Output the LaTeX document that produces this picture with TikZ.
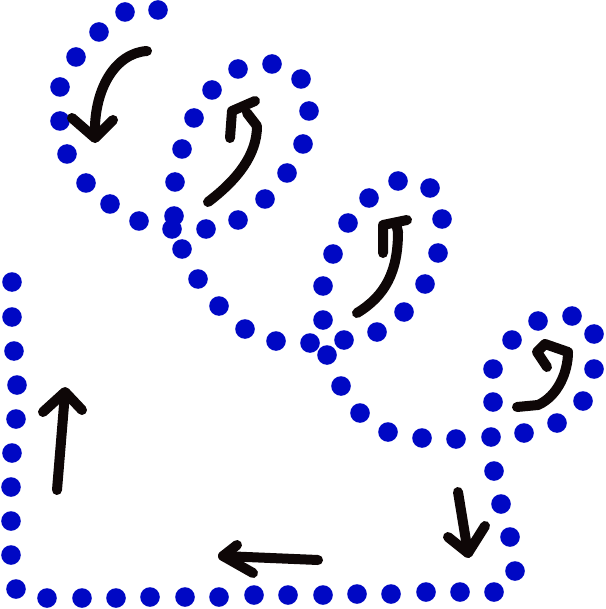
\documentclass[tikz,border=0pt]{standalone}
\definecolor{dotblue}{RGB}{0,8,196}
\definecolor{ink}{RGB}{14,7,7}
\tikzset{
  dotmark/.style={fill=dotblue},
  stroke/.style={draw=ink,line width=10pt,line cap=round,line join=round}
}
\begin{document}
\begin{tikzpicture}[x=1pt,y=-1pt]
\useasboundingbox (0,0) rectangle (605,609);
% blue dotted path
\foreach \p in {
  (158,10),(125,12),(99,32),(76,57),(60,87),(60,121),(67,154),(86,183),(110,204),(139,221),(174,216),(172,229),
  (175,182),(182,149),(194,118),(212,90),(238,69),(272,64),(301,79),(309,111),(303,144),(287,173),(265,199),(238,220),(206,229),
  (182,249),(198,279),(219,306),(245,329),(276,341),(310,343),(327,355),
  (323,320),(323,286),(333,254),(348,223),(369,198),(398,181),(430,188),(442,219),(438,253),(425,284),(404,312),(377,332),(344,340),
  (341,386),(360,413),(388,432),(422,438),(456,439),(491,437),
  (524,433),(557,423),(583,401),(594,369),(594,334),(572,316),(538,321),(512,340),(493,369),(493,402),
  (494,471),(501,504),(510,537),(515,571),(494,592),
  (460,592),(426,592),(391,594),(357,594),(323,595),(288,595),(254,595),(219,597),(185,597),(150,597),(116,598),(82,598),(47,598),(16,589),
  (11,555),(11,521),(11,487),(12,453),(16,419),(17,385),(14,351),(12,317),(12,282)}
  {\fill[dotmark] \p circle[radius=9.8];}
% arrows
\draw[stroke] (147,51) .. controls (115,53) and (93,90) .. (95,137);
\draw[stroke] (72,118) -- (95,138) -- (113,120);
\draw[stroke] (208,202) .. controls (237,180) and (257,155) .. (257,126) -- (247,113);
\draw[stroke] (230,138) -- (232,111) -- (255,101);
\draw[stroke] (357,313) .. controls (385,296) and (398,272) .. (398,232) -- (396,223);
\draw[stroke] (383,253) -- (383,225) -- (407,220);
\draw[stroke] (517,407) -- (538,405) .. controls (558,396) and (568,372) .. (568,352);
\draw[stroke] (547,367) -- (537,352) -- (545,344) -- (568,352);
\draw[stroke] (57,490) -- (65,393);
\draw[stroke] (43,412) -- (65,392) -- (82,410);
\draw[stroke] (318,560) -- (223,556);
\draw[stroke] (237,545) -- (223,556) -- (253,573);
\draw[stroke] (458,492) -- (468,553);
\draw[stroke] (448,537) -- (468,553) -- (485,526);
\end{tikzpicture}
\end{document}
